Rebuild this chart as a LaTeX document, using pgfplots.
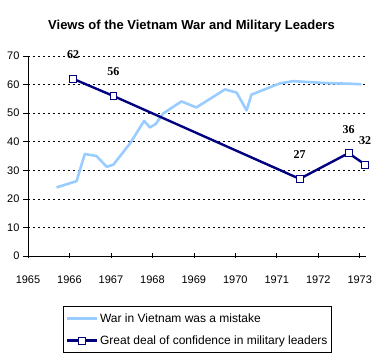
\documentclass[border=0pt]{standalone}
\usepackage{fontspec}
\setmainfont{Liberation Sans}
\newfontfamily\labfont{Liberation Serif}
\usepackage{pgfplots}
\pgfplotsset{compat=1.18}
\definecolor{lblue}{RGB}{153,204,255}
\definecolor{navy}{RGB}{0,0,128}
\begin{document}
\begin{tikzpicture}
\begin{axis}[
  scale only axis, width=338pt, height=200pt,
  at={(0,0)}, anchor=south west,
  xmin=1965, xmax=1973.15, ymin=0, ymax=70,
  axis x line*=bottom, axis y line*=left,
  xtick={1965,...,1973}, ytick={0,10,...,70},
  xticklabel style={/pgf/number format/1000 sep={}, yshift=-14pt},
  x tick label style={font=\fontsize{11}{13}\selectfont},
  y tick label style={font=\fontsize{11}{13}\selectfont},
  /pgf/number format/assume math mode=true,
  ymajorgrids,
  major grid style={black, dash pattern=on 2.5pt off 2.5pt, line width=0.7pt},
  x tick style={black, line width=0.7pt}, y tick style={black, line width=0.7pt},
  xtick align=center, ytick align=outside, major tick length=5pt,
  axis line style={line width=0.8pt},
  legend style={at={(0.5015,-0.25)}, anchor=north, draw=black, line width=0.8pt,
    font=\fontsize{12}{13}\selectfont, row sep=8pt, inner xsep=2pt, inner ysep=5pt,
    cells={anchor=west}},
  legend image code/.code={\draw[mark repeat=2,mark phase=2,#1] plot coordinates {(0pt,0pt) (15pt,0pt) (30pt,0pt)};},
  clip=false,
]
\addplot[lblue, line width=2.6pt, line join=round] coordinates {
(1965.69,24) (1966.17,26.2) (1966.37,35.7) (1966.65,35) (1966.9,31.2) (1967.06,32)
(1967.46,39.4) (1967.8,47.3) (1967.94,45) (1968.08,46.2) (1968.26,49.9)
(1968.7,54.1) (1969.06,52) (1969.75,58.3) (1970.03,57.2) (1970.27,51) (1970.39,56.5)
(1971.07,60.4) (1971.39,61.2) (1971.63,61) (1972.2,60.5) (1972.76,60.3) (1973.04,60.1)};
\addlegendentry{War in Vietnam was a mistake}
\addplot[navy, line width=2.4pt, mark=square*, mark size=3.4pt,
  mark options={fill=white, draw=navy, line width=0.8pt},
  nodes near coords, point meta=explicit symbolic,
  every node near coord/.append style={anchor=center, yshift=24pt, text=black,
    font=\labfont\bfseries\fontsize{12}{14}\selectfont}] coordinates {
(1966.09,62) [62] (1967.06,56) [56] (1971.55,27) [27] (1972.73,36) [36] (1973.13,32) [32]};
\addlegendentry{Great deal of confidence in military leaders}
\end{axis}
\node[font=\bfseries\fontsize{13}{15}\selectfont] at (163.5pt,230pt) {Views of the Vietnam War and Military Leaders};
\path[use as bounding box] (-28pt,-108pt) rectangle (356pt,256pt);
\end{tikzpicture}
\end{document}
